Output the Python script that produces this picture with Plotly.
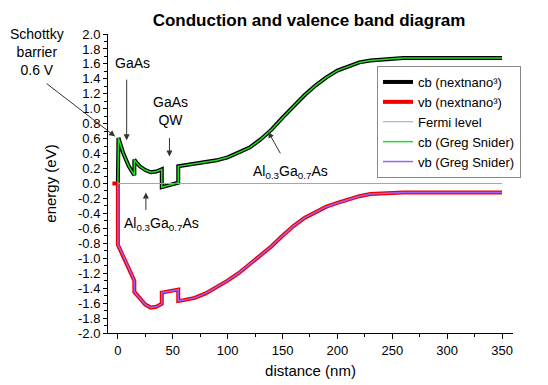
import plotly.graph_objects as go

# ---------------- data ----------------
cb_x = [0, 0.5, 5, 10, 15, 15, 17, 20, 25, 30, 35, 40, 40, 55, 55, 60, 70, 80, 90,
        100, 110, 120, 130, 140, 150, 160, 170, 180, 190, 200, 210, 220, 230, 240,
        250, 260, 280, 300, 350]
cb_e = [0.0, 0.61, 0.40, 0.23, 0.11, 0.32, 0.28, 0.23, 0.18, 0.15, 0.16, 0.19, -0.05,
        0.01, 0.23, 0.24, 0.26, 0.285, 0.31, 0.35, 0.41, 0.48, 0.59, 0.72, 0.88, 1.03,
        1.18, 1.31, 1.42, 1.51, 1.57, 1.62, 1.645, 1.66, 1.67, 1.68, 1.68, 1.68, 1.68]

vb_x = [-5, 0, 0, 5, 10, 15, 15, 20, 25, 30, 35, 40, 40, 55, 55, 60, 70, 80, 90,
        100, 110, 120, 130, 140, 150, 160, 170, 180, 190, 200, 210, 220, 230, 240,
        250, 260, 280, 300, 350]
vb_e = [0.0, 0.0, -0.82, -0.97, -1.13, -1.30, -1.45, -1.54, -1.62, -1.66, -1.65, -1.61,
        -1.46, -1.42, -1.57, -1.56, -1.53, -1.47, -1.39, -1.30, -1.20, -1.08, -0.96,
        -0.84, -0.70, -0.57, -0.46, -0.38, -0.31, -0.26, -0.21, -0.17, -0.14, -0.13,
        -0.12, -0.12, -0.12, -0.12, -0.12]

fermi_x = [0, 350]
fermi_e = [0.0, 0.0]

y_tickvals = [2.0, 1.8, 1.6, 1.4, 1.2, 1.0, 0.8, 0.6, 0.4, 0.2, 0.0,
              -0.2, -0.4, -0.6, -0.8, -1.0, -1.2, -1.4, -1.6, -1.8, -2.0]
y_ticktext = ["2.0", "1.8", "1.6", "1.4", "1.2", "1.0", "0.8", "0.6", "0.4", "0.2", "0.0",
              "-0.2", "-0.4", "-0.6", "-0.8", "-1.0", "-1.2", "-1.4", "-1.6", "-1.8", "-2.0"]
x_tickvals = [0, 50, 100, 150, 200, 250, 300, 350]
x_ticktext = ["0", "50", "100", "150", "200", "250", "300", "350"]

FONT = "Liberation Sans, Arial, sans-serif"

fig = go.Figure()
fig.add_trace(go.Scatter(x=cb_x, y=cb_e, mode="lines", name="cb (nextnano³)",
                         line=dict(color="black", width=4)))
fig.add_trace(go.Scatter(x=vb_x, y=vb_e, mode="lines", name="vb (nextnano³)",
                         line=dict(color="#ee0000", width=4)))
fig.add_trace(go.Scatter(x=fermi_x, y=fermi_e, mode="lines", name="Fermi level",
                         line=dict(color="#9c9cf0", width=1)))
fig.add_trace(go.Scatter(x=cb_x, y=cb_e, mode="lines", name="cb (Greg Snider)",
                         line=dict(color="#22dd22", width=1.5)))
fig.add_trace(go.Scatter(x=vb_x[1:], y=vb_e[1:], mode="lines", name="vb (Greg Snider)",
                         line=dict(color="#a060ff", width=1.5)))

arrow = dict(showarrow=True, arrowhead=2, arrowsize=1.2, arrowwidth=1,
             arrowcolor="#333333", axref="pixel", ayref="pixel", text="",
             xref="x", yref="y")
txt = dict(showarrow=False, xref="paper", yref="paper",
           font=dict(family=FONT, size=14, color="black"))

def px2x(p):
    return (p - 108) / 405.0

def px2y(p):
    return (333 - p) / 299.0

annotations = [
    dict(text="Schottky<br>barrier<br>0.6 V", x=px2x(37), y=px2y(52), xanchor="center",
         yanchor="middle", align="center", **txt),
    dict(text="GaAs", x=px2x(132), y=px2y(63), xanchor="center", yanchor="middle", **txt),
    dict(text="GaAs<br>QW", x=px2x(170), y=px2y(111), xanchor="center", yanchor="middle",
         align="center", **txt),
    dict(text="Al<sub>0.3</sub>Ga<sub>0.7</sub>As", x=px2x(161), y=px2y(224),
         xanchor="center", yanchor="middle", **txt),
    dict(text="Al<sub>0.3</sub>Ga<sub>0.7</sub>As", x=px2x(290), y=px2y(172),
         xanchor="center", yanchor="middle", **txt),
    dict(x=-2.5, y=0.63, ax=-70, ay=-54, **arrow),
    dict(x=8, y=0.58, ax=0, ay=-62, **arrow),
    dict(x=47, y=0.36, ax=0, ay=-20, **arrow),
    dict(x=25.5, y=-0.12, ax=0, ay=19, **arrow),
    dict(x=137, y=0.69, ax=13, ay=23, **arrow),
]

fig.update_layout(
    width=548, height=385,
    margin=dict(l=108, r=35, t=34, b=52, autoexpand=False),
    paper_bgcolor="white", plot_bgcolor="white",
    font=dict(family=FONT, size=12, color="black"),
    title=dict(text="<b>Conduction and valence band diagram</b>", x=309 / 548,
               xref="container", xanchor="center", yref="container", y=1 - 20 / 385,
               yanchor="middle", font=dict(family=FONT, size=17, color="black")),
    showlegend=True,
    legend=dict(x=px2x(377), y=px2y(66), xanchor="left", yanchor="top",
                bgcolor="white", bordercolor="#888888", borderwidth=1,
                font=dict(family=FONT, size=13, color="black"),
                tracegroupgap=0, itemwidth=30),
    annotations=annotations,
)

fig.update_xaxes(range=[-9, 360], showline=True, linecolor="black", linewidth=1,
                 showgrid=False, zeroline=False, ticks="outside", ticklen=5,
                 tickcolor="black", tickmode="array", tickvals=x_tickvals,
                 ticktext=x_ticktext, tickfont=dict(size=13), automargin=False,
                 minor=dict(tickmode="linear", tick0=25, dtick=50, ticklen=3,
                            ticks="outside", tickcolor="black", showgrid=False),
                 title=dict(text="distance (nm)", font=dict(size=15), standoff=8))
fig.update_yaxes(range=[-2.0, 2.0], showline=True, linecolor="black", linewidth=1,
                 showgrid=False, zeroline=False, ticks="outside", ticklen=4,
                 tickcolor="black", tickmode="array", tickvals=y_tickvals,
                 ticktext=y_ticktext, tickfont=dict(size=13), automargin=False,
                 minor=dict(tickmode="linear", tick0=0.1, dtick=0.2, ticklen=3,
                            ticks="outside", tickcolor="black", showgrid=False),
                 title=dict(text="energy (eV)", font=dict(size=15), standoff=17))

fig.write_html("out.html", config={"displayModeBar": False},
               post_script="document.body.style.margin='0px';document.body.style.padding='0px';")
